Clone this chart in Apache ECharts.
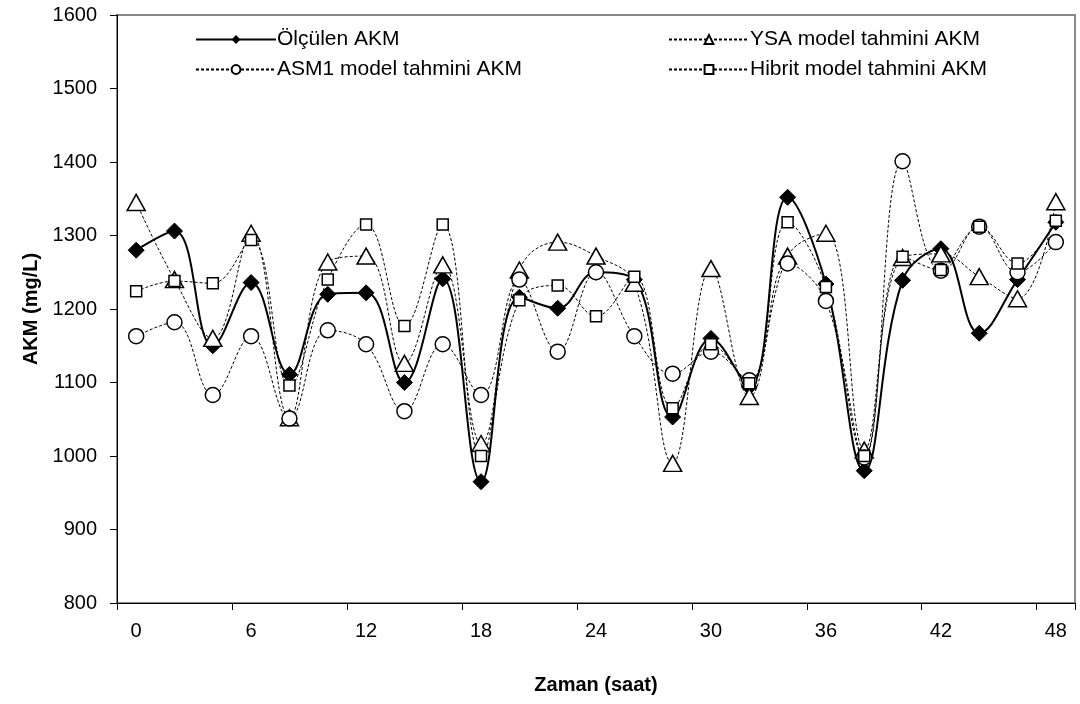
<!DOCTYPE html>
<html>
<head>
<meta charset="utf-8">
<script src="https://cdn.jsdelivr.net/npm/echarts@6/dist/echarts.min.js"></script>
<style>
  html, body { margin: 0; padding: 0; background: #fff; }
  #main { width: 1080px; height: 704px; }
</style>
</head>
<body>
<div id="main"></div>
<script>
// saat (0..48, 2 saatte bir)
var hours = ['0','2','4','6','8','10','12','14','16','18','20','22','24','26','28','30','32','34','36','38','40','42','44','46','48'];

var olculen = [1280, 1306, 1150, 1236, 1111, 1220, 1222, 1100, 1241, 965, 1216, 1201, 1250, 1240, 1053, 1160, 1094, 1352, 1234, 980, 1239, 1282, 1167, 1240, 1318];
var ysa     = [1345, 1240, 1160, 1303, 1052, 1264, 1272, 1126, 1260, 1017, 1253, 1291, 1272, 1235, 990, 1255, 1081, 1272, 1303, 1008, 1270, 1275, 1244, 1214, 1346];
var asm1    = [1163, 1182, 1083, 1163, 1051, 1171, 1152, 1061, 1152, 1083, 1240, 1142, 1250, 1163, 1112, 1142, 1103, 1262, 1211, 998, 1401, 1252, 1312, 1250, 1291];
var hibrit  = [1224, 1238, 1235, 1294, 1096, 1240, 1315, 1177, 1315, 1000, 1212, 1232, 1190, 1244, 1065, 1152, 1099, 1318, 1230, 1000, 1271, 1253, 1312, 1262, 1320];

var FONT = 'Liberation Sans, Arial, sans-serif';
var dashed = { color: '#000', width: 1, type: [3, 2] };
var openMarker = { color: '#fff', borderColor: '#000', borderWidth: 1.5 };

function legendAt(name, left, top) {
  return {
    data: [name], left: left, top: top,
    itemWidth: 80, itemHeight: 11, itemGap: 0,
    textStyle: { fontFamily: FONT, fontSize: 21, color: '#000', padding: [0, 0, 0, -4] }
  };
}

var chart = echarts.init(document.getElementById('main'));

chart.setOption({
  animation: false,
  backgroundColor: '#fff',
  grid: { left: 117, right: 5, top: 15, bottom: 101, show: true, borderColor: '#888', borderWidth: 2 },
  legend: [
    legendAt('Ölçülen AKM', 190, 24),
    legendAt('YSA model tahmini AKM', 663, 24),
    legendAt('ASM1 model tahmini AKM', 190, 54),
    legendAt('Hibrit model tahmini AKM', 663, 54)
  ],
  xAxis: {
    type: 'category',
    data: hours,
    boundaryGap: true,
    name: 'Zaman (saat)',
    nameLocation: 'middle',
    nameGap: 72,
    nameTextStyle: { fontFamily: FONT, fontSize: 20, fontWeight: 'bold', color: '#000' },
    axisLine: { show: true, lineStyle: { color: '#000', width: 1 } },
    axisTick: { show: true, interval: 2, alignWithLabel: false, length: 7, lineStyle: { color: '#000', width: 1 } },
    axisLabel: { interval: 2, margin: 18, fontFamily: FONT, fontSize: 20, color: '#000' },
    splitLine: { show: false }
  },
  yAxis: {
    type: 'value',
    min: 800, max: 1600, interval: 100,
    name: 'AKM (mg/L)',
    nameLocation: 'middle',
    nameRotate: 90,
    nameGap: 72,
    nameTextStyle: { fontFamily: FONT, fontSize: 20, fontWeight: 'bold', color: '#000' },
    axisLine: { show: true, lineStyle: { color: '#000', width: 1 } },
    axisTick: { show: true, length: 7, lineStyle: { color: '#000' } },
    axisLabel: { margin: 20, fontFamily: FONT, fontSize: 20, color: '#000', formatter: function (v) { return String(v); } },
    splitLine: { show: false }
  },
  series: [
    {
      name: 'Ölçülen AKM', type: 'line', data: olculen, smooth: 0.4,
      symbol: 'diamond', symbolSize: 16,
      lineStyle: { color: '#000', width: 2 },
      itemStyle: { color: '#000', borderColor: '#000' }
    },
    {
      name: 'YSA model tahmini AKM', type: 'line', data: ysa, smooth: 0.4,
      symbol: 'triangle', symbolSize: [18, 16],
      lineStyle: dashed, itemStyle: openMarker
    },
    {
      name: 'ASM1 model tahmini AKM', type: 'line', data: asm1, smooth: 0.4,
      symbol: 'circle', symbolSize: 15,
      lineStyle: dashed, itemStyle: openMarker
    },
    {
      name: 'Hibrit model tahmini AKM', type: 'line', data: hibrit, smooth: 0.4,
      symbol: 'rect', symbolSize: 11,
      lineStyle: dashed, itemStyle: openMarker
    }
  ]
});
</script>
</body>
</html>
